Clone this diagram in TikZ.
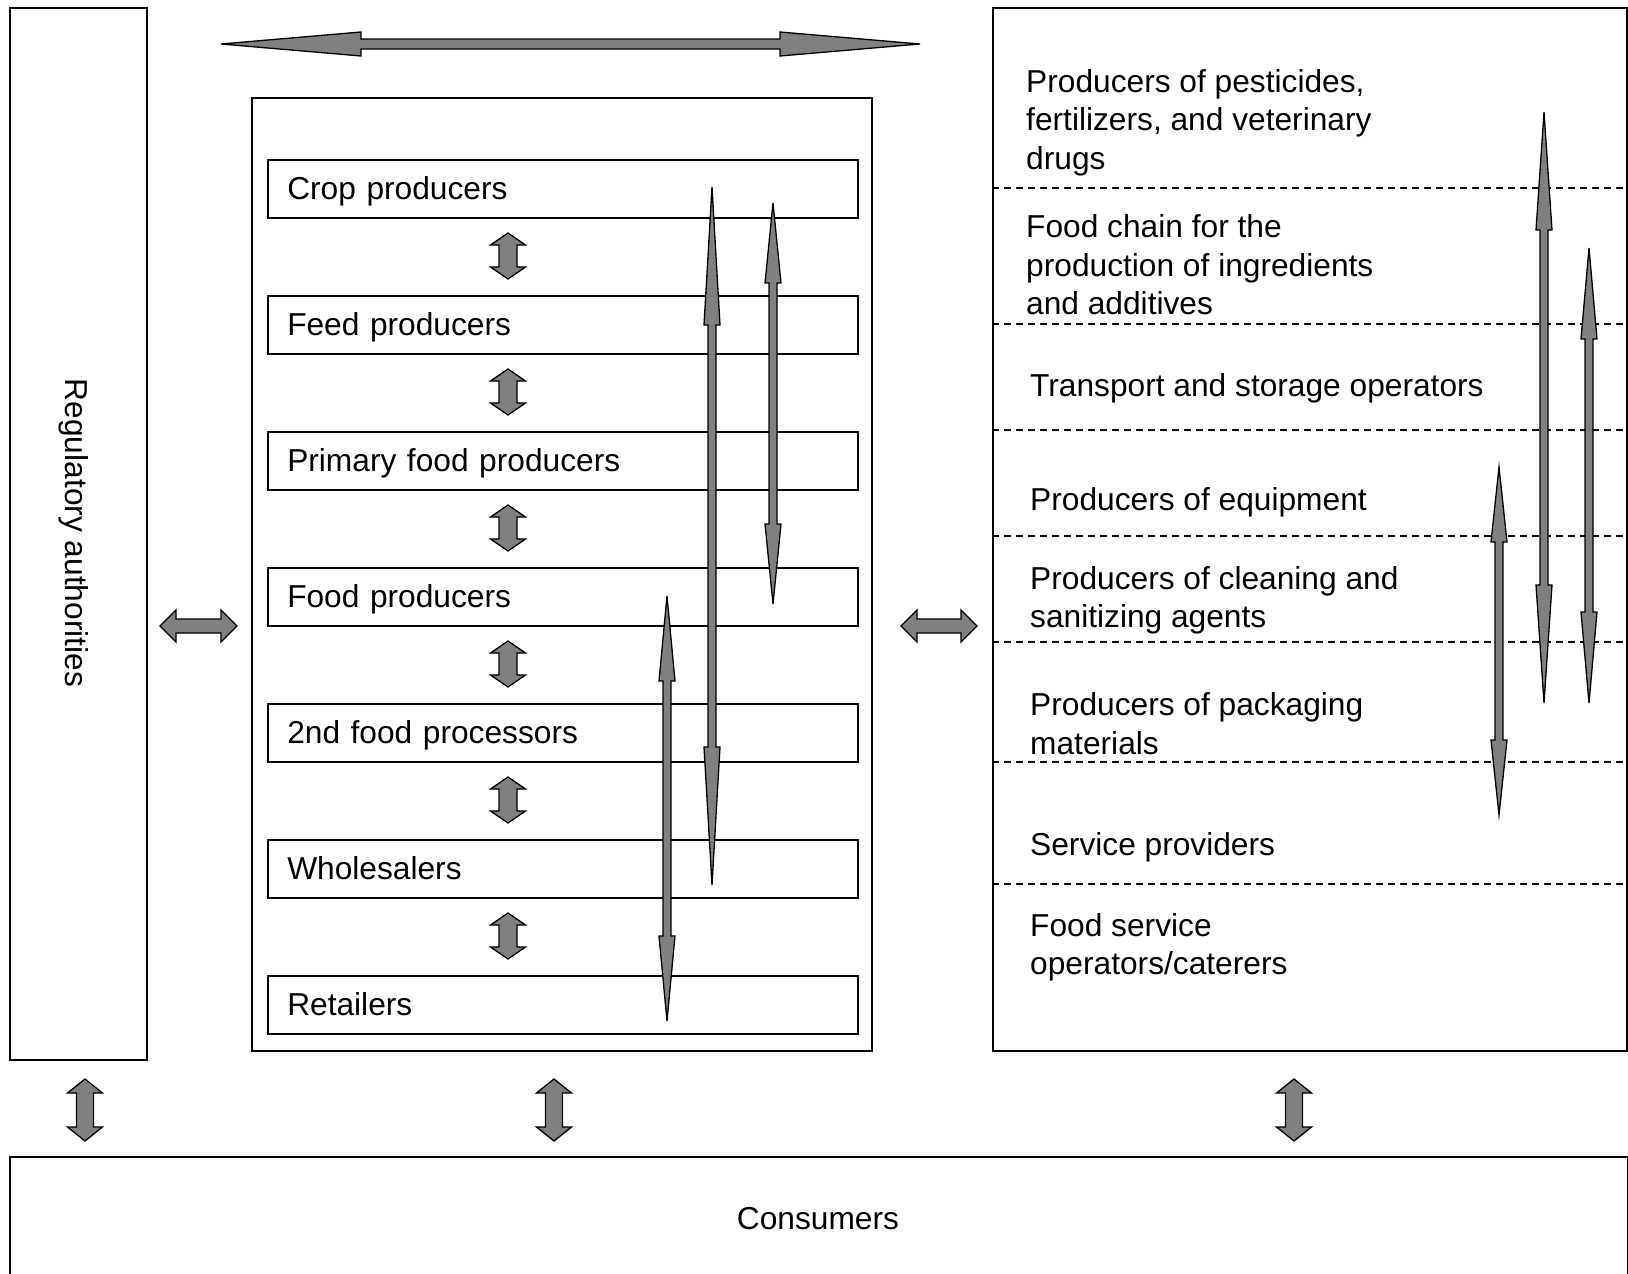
\documentclass[tikz,border=0pt]{standalone}
\usepackage{fontspec}
\setmainfont{Liberation Sans}
\usetikzlibrary{calc}
\definecolor{arrowgray}{HTML}{808080}
\newcommand\blockarr[5]{%
\filldraw[barrow] (#1) -- ($(#1)!#3!(#2)!#4!90:(#2)$) -- ($(#1)!#3!(#2)!#5!90:(#2)$) -- ($(#2)!#3!(#1)!#5!-90:(#1)$) -- ($(#2)!#3!(#1)!#4!-90:(#1)$) -- (#2) -- ($(#2)!#3!(#1)!#4!90:(#1)$) -- ($(#2)!#3!(#1)!#5!90:(#1)$) -- ($(#1)!#3!(#2)!#5!-90:(#2)$) -- ($(#1)!#3!(#2)!#4!-90:(#2)$) -- cycle;}
\begin{document}
\begin{tikzpicture}[x=1pt,y=-1pt,
  txt/.style={font=\fontsize{31.7}{38.4}\selectfont, inner sep=0pt, align=left},
  frame/.style={draw=black, line width=1.5pt, rectangle, inner sep=0pt, anchor=north west},
  stage/.style={draw=black, line width=1.5pt, rectangle, minimum width=590pt, minimum height=58pt, text width=551pt, inner xsep=19.5pt, inner ysep=0pt, text height=22pt, text depth=0pt, align=left, anchor=north west, font=\fontsize{31.7}{38.4}\selectfont},
  sep/.style={draw=black, line width=1.7pt, dash pattern=on 7pt off 5pt},
  barrow/.style={fill=arrowgray, draw=black, line width=1.3pt}]
\useasboundingbox (0,0) rectangle (1628,1274);

% frames
\node[frame, minimum width=137pt, minimum height=1052pt] (reg) at (9,7) {};
\node[frame, minimum width=620pt, minimum height=953pt] (chain) at (251,97) {};
\node[frame, minimum width=634pt, minimum height=1043pt] (supp) at (992,7) {};
\node[frame, minimum width=1618pt, minimum height=140pt] (cons) at (9,1156) {};

\node[txt, rotate=-90] (regl) at (74,533) {Regulatory authorities};
\node[txt] (consl) at (818,1219) {Consumers};

% stages
\node[stage] (crop) at (267,159) {Crop producers};
\node[stage] (feed) at (267,295) {Feed producers};
\node[stage] (prim) at (267,431) {Primary food producers};
\node[stage] (foodp) at (267,567) {Food producers};
\node[stage] (second) at (267,703) {2nd food processors};
\node[stage] (whole) at (267,839) {Wholesalers};
\node[stage] (retail) at (267,975) {Retailers};

% dashed separators
\foreach \yy in {188,324,430,536,642,762,884}{
  \draw[sep] (992,\yy) -- (1626,\yy);
}

% right texts
\node[txt, anchor=west] (t1) at (1026,122.6) {Producers of pesticides,\\fertilizers, and veterinary\\drugs};
\node[txt, anchor=west] (t2) at (1026,264.7) {Food chain for the\\production of ingredients\\and additives};
\node[txt, anchor=west] (t3) at (1030,388) {Transport and storage operators};
\node[txt, anchor=west] (t4) at (1030,502) {Producers of equipment};
\node[txt, anchor=west] (t5) at (1030,600.5) {Producers of cleaning and\\sanitizing agents};
\node[txt, anchor=west] (t6) at (1030,723.5) {Producers of packaging\\materials};
\node[txt, anchor=west] (t7) at (1030,847) {Service providers};
\node[txt, anchor=west] (t8) at (1030,947) {Food service\\operators/caterers};

% top arrow
\coordinate (topL) at (221,44);
\coordinate (topR) at (920,44);
\blockarr{topL}{topR}{140pt}{12pt}{5pt}

% small arrows between stages
\foreach \i [count=\k from 0] in {1,...,6}{
  \coordinate (s\i a) at (508,{233+136*\k});
  \coordinate (s\i b) at (508,{279+136*\k});
  \blockarr{s\i a}{s\i b}{12pt}{17.5pt}{9pt}
}

% horizontal side arrows
\coordinate (hLa) at (160,626);
\coordinate (hLb) at (237,626);
\blockarr{hLa}{hLb}{16pt}{16pt}{7pt}
\coordinate (hRa) at (901,626);
\coordinate (hRb) at (977,626);
\blockarr{hRa}{hRb}{16pt}{16pt}{7pt}

% bottom arrows
\foreach \xx/\n in {85/b1,554/b2,1294/b3}{
  \coordinate (\n a) at (\xx,1079);
  \coordinate (\n b) at (\xx,1141);
  \blockarr{\n a}{\n b}{14pt}{17.5pt}{8.5pt}
}

% long thin arrows in chain box
\coordinate (Aa) at (712,187); \coordinate (Ab) at (712,885);
\blockarr{Aa}{Ab}{138pt}{8pt}{4pt}
\coordinate (Ba) at (773,203); \coordinate (Bb) at (773,604);
\blockarr{Ba}{Bb}{80pt}{8pt}{4pt}
\coordinate (Ca) at (667,596); \coordinate (Cb) at (667,1021);
\blockarr{Ca}{Cb}{85pt}{8pt}{4pt}

% long thin arrows in supplier box
\coordinate (Da) at (1544,112); \coordinate (Db) at (1544,703);
\blockarr{Da}{Db}{118pt}{8pt}{4pt}
\coordinate (Ea) at (1589,248); \coordinate (Eb) at (1589,703);
\blockarr{Ea}{Eb}{91pt}{8pt}{4pt}
\coordinate (Fa) at (1499,467); \coordinate (Fb) at (1499,815);
\blockarr{Fa}{Fb}{75pt}{8pt}{4pt}
\end{tikzpicture}
\end{document}
